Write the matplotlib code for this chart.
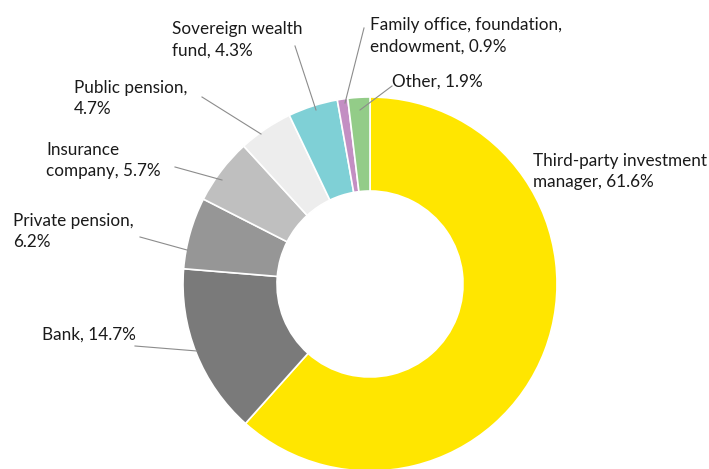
import matplotlib
matplotlib.use('Agg')
import matplotlib.pyplot as plt

# Data
labels = ['Third-party investment\nmanager, 61.6%', 'Bank, 14.7%', 'Private pension,\n6.2%',
          'Insurance\ncompany, 5.7%', 'Public pension,\n4.7%', 'Sovereign wealth\nfund, 4.3%',
          'Family office, foundation,\nendowment, 0.9%', 'Other, 1.9%']
values = [61.6, 14.7, 6.2, 5.7, 4.7, 4.3, 0.9, 1.9]
colors = ['#FFE600', '#7A7A7A', '#969696', '#BFBFBF', '#EDEDED', '#7FD0D6', '#C38FC3', '#93CC88']

H = 469
fig = plt.figure(figsize=(7.09, 4.69), dpi=100)
ax = fig.add_axes([0, 0, 1, 1])

ax.pie(values, colors=colors, startangle=90, counterclock=False,
       center=(370, H - 284), radius=187,
       wedgeprops=dict(width=94, edgecolor='white', linewidth=1.2))
ax.set_xlim(0, 709)
ax.set_ylim(0, H)
ax.set_aspect('equal')
ax.axis('off')

# label positions (pixel coords, top-left of text) and leader lines
text_pos = [(533, 153), (42, 327), (13, 213), (46, 142), (74, 80), (172, 21), (370, 17), (392, 74)]
leaders = [None, ((135, 346), (197, 351)), ((140, 237), (187, 250)), ((175, 167), (222, 180)),
           ((202, 97), (261, 134)), ((295, 46), (316, 110)), ((364, 28), (345, 103)),
           ((392, 86), (360, 110))]

for lab, (x, y), ld in zip(labels, text_pos, leaders):
    ax.text(x, H - y, lab, ha='left', va='top', fontsize=12.3, family='Lato',
            color='#1A1A1A', linespacing=1.42)
    if ld:
        (x0, y0), (x1, y1) = ld
        ax.plot([x0, x1], [H - y0, H - y1], color='#8C8C8C', lw=0.8)

fig.savefig('out.png', dpi=100)
